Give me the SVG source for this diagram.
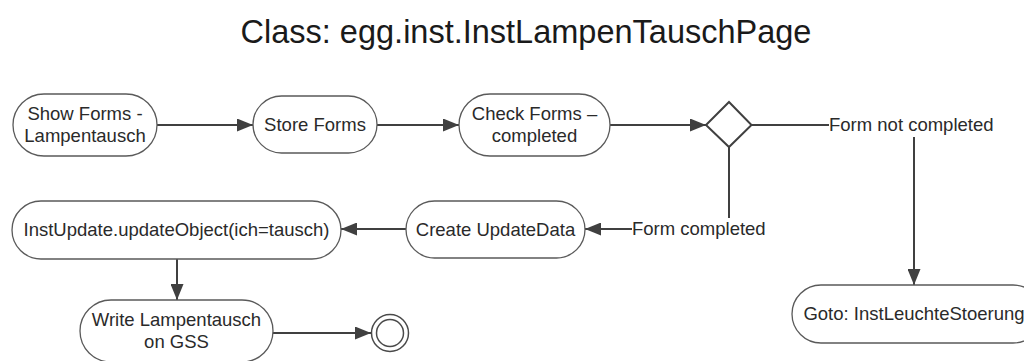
<svg xmlns="http://www.w3.org/2000/svg" width="1024" height="361" viewBox="0 0 1024 361">
  <defs>
    <marker id="arrow" viewBox="0 0 16 13" refX="16" refY="6.5" markerWidth="16" markerHeight="13" markerUnits="userSpaceOnUse" orient="auto">
      <path d="M0,0 L16,6.5 L0,13 z" fill="#404040"/>
    </marker>
    <style>
      .node { fill: #ffffff; stroke: #5a5a5a; stroke-width: 1.3; }
      .label { font-family: "Liberation Sans", Arial, sans-serif; font-size: 18.5px; fill: #2a2a2a; text-anchor: middle; }
      .edge { fill: none; stroke: #404040; stroke-width: 2; }
      .edge-label { font-family: "Liberation Sans", Arial, sans-serif; font-size: 18.5px; fill: #2a2a2a; text-anchor: start; }
      .title { font-family: "Liberation Sans", Arial, sans-serif; font-size: 32.5px; fill: #1a1a1a; text-anchor: middle; }
    </style>
  </defs>

  <rect width="1024" height="361" fill="#ffffff"/>

  <text class="title" x="526" y="43">Class: egg.inst.InstLampenTauschPage</text>

  <g id="connectors">
    <line class="edge" x1="157" y1="125" x2="253" y2="125" marker-end="url(#arrow)"/>
    <line class="edge" x1="377" y1="125" x2="459" y2="125" marker-end="url(#arrow)"/>
    <line class="edge" x1="610" y1="125" x2="706" y2="125" marker-end="url(#arrow)"/>
    <line class="edge" x1="751" y1="125" x2="829" y2="125"/>
    <line class="edge" x1="914" y1="137" x2="914" y2="285" marker-end="url(#arrow)"/>
    <line class="edge" x1="729" y1="147" x2="729" y2="218"/>
    <line class="edge" x1="632" y1="229" x2="585" y2="229" marker-end="url(#arrow)"/>
    <line class="edge" x1="406" y1="229" x2="341" y2="229" marker-end="url(#arrow)"/>
    <line class="edge" x1="177" y1="259" x2="177" y2="300" marker-end="url(#arrow)"/>
    <line class="edge" x1="273" y1="333" x2="371" y2="333" marker-end="url(#arrow)"/>
    <text class="edge-label" x="829" y="131">Form not completed</text>
    <text class="edge-label" x="632" y="235">Form completed</text>
  </g>

  <g id="show-forms">
    <rect class="node" x="13" y="94" width="144" height="62" rx="31"/>
    <text class="label" x="85" y="120">Show Forms -</text>
    <text class="label" x="85" y="142">Lampentausch</text>
  </g>

  <g id="store-forms">
    <rect class="node" x="253" y="96" width="124" height="57" rx="28.5"/>
    <text class="label" x="315" y="131">Store Forms</text>
  </g>

  <g id="check-forms">
    <rect class="node" x="459" y="94" width="151" height="62" rx="31"/>
    <text class="label" x="534.5" y="120">Check Forms –</text>
    <text class="label" x="534.5" y="142">completed</text>
  </g>

  <g id="decision">
    <polygon class="node" points="729,102 751.5,125 729,147 706,125" style="stroke:#404040;stroke-width:2"/>
  </g>

  <g id="goto-leuchte-stoerung">
    <rect class="node" x="792" y="285" width="250" height="58" rx="29"/>
    <text class="label" x="914" y="320">Goto: InstLeuchteStoerung</text>
  </g>

  <g id="create-update-data">
    <rect class="node" x="406" y="201" width="179" height="57" rx="28.5"/>
    <text class="label" x="495.5" y="236">Create UpdateData</text>
  </g>

  <g id="update-object">
    <rect class="node" x="12" y="201" width="329" height="58" rx="29"/>
    <text class="label" x="176.5" y="236">InstUpdate.updateObject(ich=tausch)</text>
  </g>

  <g id="write-lampentausch">
    <rect class="node" x="80" y="300" width="193" height="62" rx="31"/>
    <text class="label" x="176.5" y="326">Write Lampentausch</text>
    <text class="label" x="176.5" y="348">on GSS</text>
  </g>

  <g id="final">
    <circle cx="390" cy="333" r="18.5" fill="#ffffff" stroke="#4a4a4a" stroke-width="1.5"/>
    <circle cx="390" cy="333" r="13.5" fill="#ffffff" stroke="#4a4a4a" stroke-width="1.5"/>
  </g>
</svg>
